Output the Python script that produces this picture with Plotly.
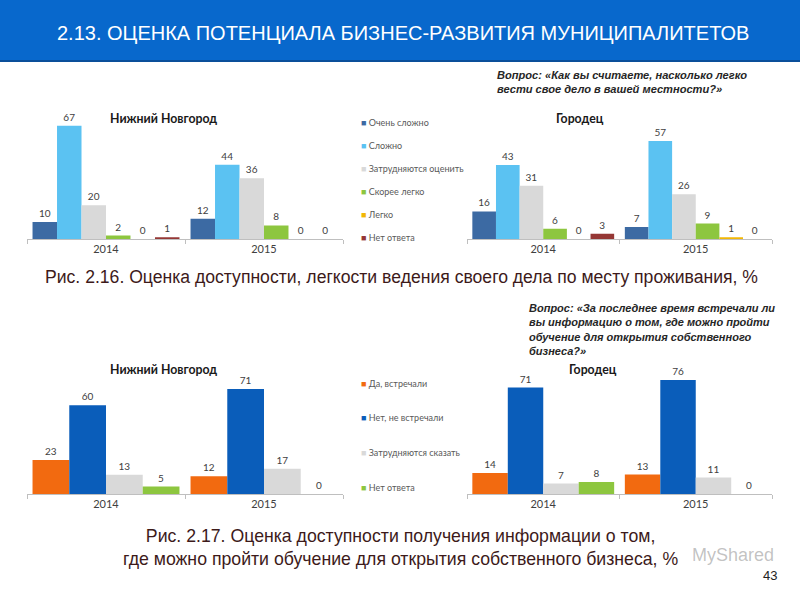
import plotly.graph_objs as go

# --- data ---
years = ["2014", "2015"]

ease_labels = ["Очень сложно", "Сложно", "Затрудняются оценить", "Скорее легко", "Легко", "Нет ответа"]
ease_colors = ["#3C6AA3", "#5BC2F2", "#D9D9D9", "#8DC63F", "#F2B705", "#953735"]
ease_nn = [[10, 12], [67, 44], [20, 36], [2, 8], [0, 0], [1, 0]]
ease_gor = [[16, 7], [43, 57], [31, 26], [6, 9], [0, 1], [3, 0]]

info_labels = ["Да, встречали", "Нет, не встречали", "Затрудняются сказать", "Нет ответа"]
info_colors = ["#F26A10", "#0A5DBA", "#D9D9D9", "#8DC63F"]
info_nn = [[23, 12], [60, 71], [13, 17], [5, 0]]
info_gor = [[14, 13], [71, 76], [7, 11], [8, 0]]

W, H = 800, 600
BAR_FONT = dict(family="Lato, Carlito, Calibri, sans-serif", size=10, color="#404040")


def px(x0, x1):
    return [x0 / W, x1 / W]


def py(top, bottom):
    return [1 - bottom / H, 1 - top / H]


fig = go.Figure()

# (series, labels, colors, xaxis id, domain x px, baseline px, px per unit)
panels = [
    (ease_nn, ease_labels, ease_colors, "", (27, 343), 239, 1.69),
    (ease_gor, ease_labels, ease_colors, "2", (467, 772), 239, 1.72),
    (info_nn, info_labels, info_colors, "3", (27, 343), 494, 1.48),
    (info_gor, info_labels, info_colors, "4", (467, 772), 494, 1.50),
]
YMAX = 80

for series, labels, colors, ax, (x0, x1), base, scale in panels:
    for vals, name, col in zip(series, labels, colors):
        fig.add_trace(go.Bar(
            x=years, y=vals, name=name,
            marker=dict(color=col, line=dict(width=0)),
            text=[str(v) for v in vals], textposition="outside",
            textfont=BAR_FONT, cliponaxis=False,
            xaxis="x" + ax, yaxis="y" + ax, showlegend=False,
        ))
    top = base - YMAX * scale
    fig.layout["xaxis" + ax] = dict(
        domain=px(x0, x1), anchor="y" + ax, type="category",
        showline=True, linecolor="#BFBFBF", linewidth=1,
        ticks="outside", tickson="boundaries", ticklen=4, tickcolor="#BFBFBF",
        tickfont=dict(family="Lato, Carlito, sans-serif", size=11, color="#404040"),
        showgrid=False, zeroline=False, fixedrange=True,
    )
    fig.layout["yaxis" + ax] = dict(
        domain=py(top, base), anchor="x" + ax, range=[0, YMAX],
        visible=False, fixedrange=True,
    )

# header band
fig.add_shape(type="rect", xref="paper", yref="paper", x0=0, x1=1, y0=1 - 60 / H, y1=1,
              fillcolor="#0868CC", line=dict(width=0), layer="below")
fig.add_shape(type="line", xref="paper", yref="paper", x0=0, x1=1, y0=1 - 61 / H, y1=1 - 61 / H,
              line=dict(color="#0A4F9A", width=2))

ann = []


def text(x, y, s, size, color="#222", family="Liberation Sans, Arial, sans-serif", anchor="left", **kw):
    ann.append(dict(x=x / W, y=1 - y / H, xref="paper", yref="paper", text=s, showarrow=False,
                    xanchor=anchor, yanchor="middle", align=anchor if anchor != "center" else "center",
                    font=dict(size=size, color=color, family=family), **kw))


text(55, 33, "2.13. ОЦЕНКА ПОТЕНЦИАЛА БИЗНЕС-РАЗВИТИЯ МУНИЦИПАЛИТЕТОВ", 20, "white")

# panel titles
TITLE_FONT = "Lato, Carlito, Calibri, sans-serif"
text(163, 118, "<b>Нижний Новгород</b>", 12.3, "#1a1a1a", TITLE_FONT, "center")
text(580, 118, "<b>Городец</b>", 12.3, "#1a1a1a", TITLE_FONT, "center")
text(163, 369, "<b>Нижний Новгород</b>", 12.3, "#1a1a1a", TITLE_FONT, "center")
text(593, 369, "<b>Городец</b>", 12.3, "#1a1a1a", TITLE_FONT, "center")

# questions
text(495, 82, "<b><i>Вопрос: «Как вы считаете, насколько легко<br>вести свое дело в вашей местности?»</i></b>",
     11.1, "#262626")
text(527, 329, "<b><i>Вопрос: «За последнее время встречали ли<br>вы информацию о том, где можно пройти<br>"
     "обучение для открытия собственного<br>бизнеса?»</i></b>", 11, "#262626")

# legends
for i, (lab, col) in enumerate(zip(ease_labels, ease_colors)):
    text(359, 123 + i * 22.8, f"<span style='color:{col};font-size:9px'>■</span> {lab}", 9,
         "#595959", TITLE_FONT)
for i, (lab, col) in enumerate(zip(info_labels, info_colors)):
    text(359, 383 + i * 34.7, f"<span style='color:{col};font-size:9px'>■</span> {lab}", 9,
         "#595959", TITLE_FONT)

# captions
CAP = "#3D1A1A"
text(402, 277, "Рис. 2.16. Оценка доступности, легкости ведения своего дела по месту проживания, %", 17.6,
     CAP, anchor="center")
text(400, 547, "Рис. 2.17. Оценка доступности получения информации о том,<br>"
     "где можно пройти обучение для открытия собственного бизнеса, %", 17.7, CAP, anchor="center")
text(779, 575, "43", 13, "#222", anchor="right")
text(690, 555, "MyShared", 18, "rgba(120,120,120,0.45)")

fig.update_layout(
    width=W, height=H, margin=dict(l=0, r=0, t=0, b=0),
    paper_bgcolor="white", plot_bgcolor="rgba(0,0,0,0)",
    barmode="group", bargap=0.07, bargroupgap=0,
    showlegend=False, annotations=ann,
)

fig.write_html("out.html", config={"displayModeBar": False},
               post_script="document.body.style.margin='0';")
